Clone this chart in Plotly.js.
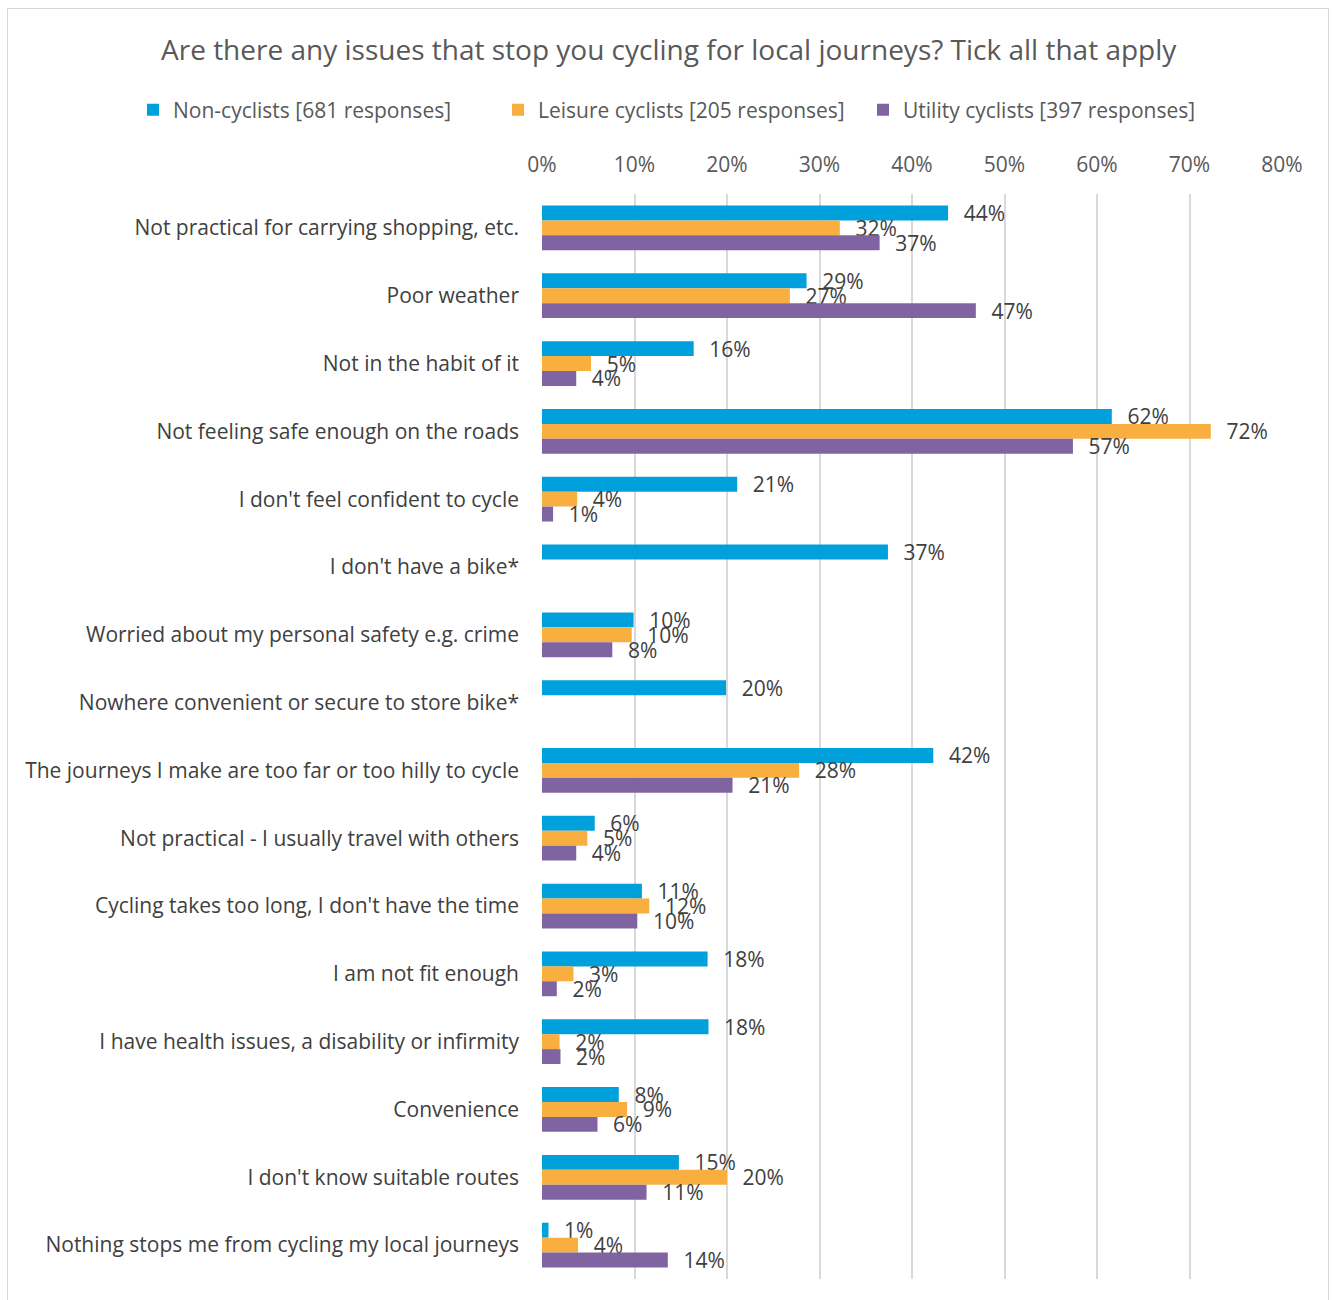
<!DOCTYPE html>
<html>
<head>
<meta charset="utf-8">
<script src="https://cdn.plot.ly/plotly-3.0.1.min.js"></script>
<style>
  html, body { margin: 0; padding: 0; background: #fff; }
  #frame { position: absolute; left: 7px; top: 8px; width: 1322px; height: 1300px; border: 1px solid #d9d9d9; box-sizing: border-box; }
  #chart { position: absolute; left: 0; top: 0; width: 1332px; height: 1300px; }
</style>
</head>
<body>
<div id="frame"></div>
<div id="chart"></div>
<script>
const categories = [
  "Not practical for carrying shopping, etc.",
  "Poor weather",
  "Not in the habit of it",
  "Not feeling safe enough on the roads",
  "I don't feel confident to cycle",
  "I don't have a bike*",
  "Worried about my personal safety e.g. crime",
  "Nowhere convenient or secure to store bike*",
  "The journeys I make are too far or too hilly to cycle",
  "Not practical - I usually travel with others",
  "Cycling takes too long, I don't have the time",
  "I am not fit enough",
  "I have health issues, a disability or infirmity",
  "Convenience",
  "I don't know suitable routes",
  "Nothing stops me from cycling my local journeys"
];
const seriesNames = [
  "Non-cyclists [681 responses]",
  "Leisure cyclists [205 responses]",
  "Utility cyclists [397 responses]"
];
const nonCyclists = [0.439, 0.286, 0.164, 0.616, 0.211, 0.374, 0.099, 0.199, 0.423, 0.057, 0.108, 0.179, 0.180, 0.083, 0.148, 0.007];
const leisure     = [0.322, 0.268, 0.053, 0.723, 0.038, null,  0.097, null,  0.278, 0.049, 0.116, 0.034, 0.019, 0.092, 0.200, 0.039];
const utility     = [0.365, 0.469, 0.037, 0.574, 0.012, null,  0.076, null,  0.206, 0.037, 0.103, 0.016, 0.020, 0.060, 0.113, 0.136];
const tickVals = [0, 0.1, 0.2, 0.3, 0.4, 0.5, 0.6, 0.7, 0.8];
const tickText = ["0%", "10%", "20%", "30%", "40%", "50%", "60%", "70%", "80%"];
const colors = ["#00A0DC", "#F9AE40", "#8064A2"];

const FONT = "Open Sans, sans-serif";
const valueSets = [nonCyclists, leisure, utility];
const traces = valueSets.map((vals, i) => ({
  type: "bar",
  orientation: "h",
  name: seriesNames[i],
  y: categories,
  x: vals,
  marker: { color: colors[i] },
  texttemplate: "\u2002\u200A%{x:.0%}",
  textposition: "outside",
  constraintext: "none",
  cliponaxis: false,
  textfont: { family: FONT, size: 21, color: "#404040" },
  hoverinfo: "x+y"
}));

const M = { l: 542, r: 50, t: 194, b: 21 };
const plotW = 1332 - M.l - M.r;
const plotH = 1300 - M.t - M.b;

const layout = {
  width: 1332,
  height: 1300,
  paper_bgcolor: "rgba(0,0,0,0)",
  plot_bgcolor: "rgba(0,0,0,0)",
  font: { family: FONT, color: "#595959" },
  title: {
    text: "Are there any issues that stop you cycling for local journeys? Tick all that apply",
    font: { family: FONT, size: 28, color: "#595959" },
    xref: "container", x: 0.502, xanchor: "center",
    yref: "container", y: 1 - 50/1300, yanchor: "middle"
  },
  barmode: "group",
  bargap: 0.34,
  bargroupgap: 0,
  margin: M,
  showlegend: true,
  legend: {
    orientation: "h",
    xref: "paper", x: (133 - M.l) / plotW, xanchor: "left",
    yref: "paper", y: (1300 - M.b - 110) / plotH, yanchor: "middle",
    font: { family: FONT, size: 21, color: "#595959" },
    traceorder: "normal",
    itemwidth: 30,
    entrywidth: 320,
    entrywidthmode: "pixels"
  },
  xaxis: {
    side: "top",
    range: [0, 0.8],
    tickvals: tickVals,
    ticktext: tickText,
    showgrid: true,
    gridcolor: "#d9d9d9",
    gridwidth: 2,
    zeroline: false,
    showline: false,
    ticks: "",
    ticklabelstandoff: 17,
    tickfont: { family: FONT, size: 21, color: "#595959" },
    fixedrange: true
  },
  yaxis: {
    autorange: "reversed",
    showgrid: false,
    zeroline: false,
    showline: false,
    ticks: "",
    ticklabelstandoff: 22,
    tickfont: { family: FONT, size: 21, color: "#404040" },
    fixedrange: true
  }
};

Plotly.newPlot("chart", traces, layout, { displayModeBar: false, staticPlot: true });
</script>
</body>
</html>
